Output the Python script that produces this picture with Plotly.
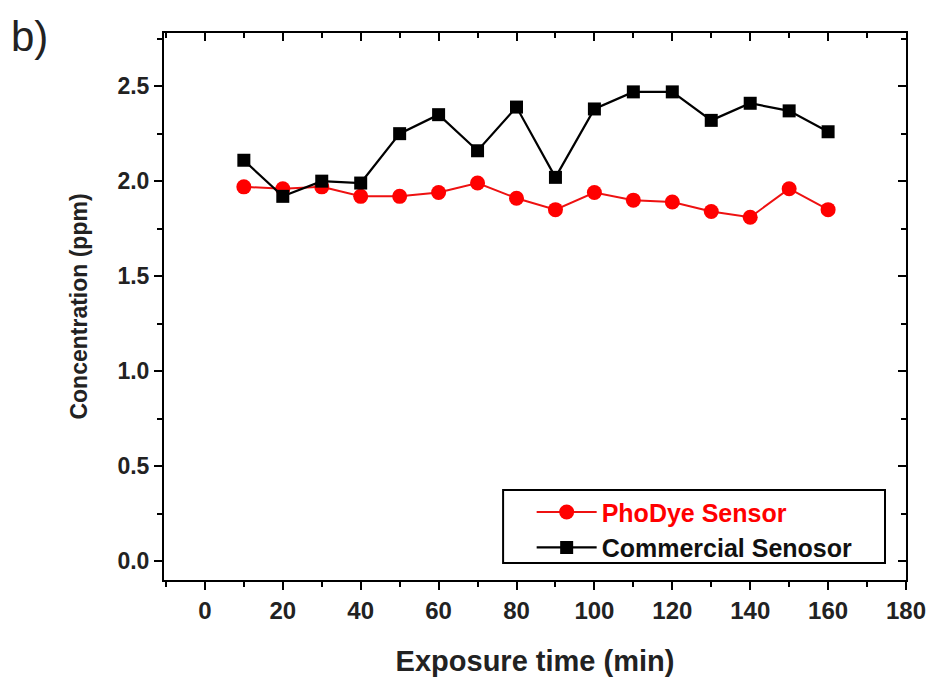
import plotly.graph_objects as go

time_min = [10, 20, 30, 40, 50, 60, 70, 80, 90, 100, 110, 120, 130, 140, 150, 160]
phodye = [1.97, 1.96, 1.97, 1.92, 1.92, 1.94, 1.99, 1.91, 1.85, 1.94, 1.90, 1.89, 1.84, 1.81, 1.96, 1.85]
commercial = [2.11, 1.92, 2.00, 1.99, 2.25, 2.35, 2.16, 2.39, 2.02, 2.38, 2.47, 2.47, 2.32, 2.41, 2.37, 2.26]

x_ticks = [0, 20, 40, 60, 80, 100, 120, 140, 160, 180]
y_ticks = [0.0, 0.5, 1.0, 1.5, 2.0, 2.5]
y_tick_labels = ["0.0", "0.5", "1.0", "1.5", "2.0", "2.5"]

FONT = "Liberation Sans, Arial, sans-serif"
xr = [-10.5, 180]
yr = [-0.1, 2.78]

fig = go.Figure()
fig.add_trace(go.Scatter(
    x=time_min, y=phodye, mode="lines+markers",
    name='<span style="color:#ff0000">PhoDye Sensor</span>',
    line=dict(color="#ee1111", width=2),
    marker=dict(symbol="circle", size=15, color="#ff0000"),
))
fig.add_trace(go.Scatter(
    x=time_min, y=commercial, mode="lines+markers",
    name="Commercial Senosor",
    line=dict(color="#000000", width=2.2),
    marker=dict(symbol="square", size=13, color="#000000"),
))

xtickfont = dict(family=FONT, size=24, color="#222", weight="bold")
ytickfont = dict(family=FONT, size=23, color="#222", weight="bold")
fig.update_layout(
    width=932, height=679,
    paper_bgcolor="white", plot_bgcolor="white",
    margin=dict(l=164, r=26, t=33, b=99, autoexpand=False),
    showlegend=True,
    legend=dict(
        x=0.4955, y=0.166, xanchor="left", yanchor="top",
        borderwidth=0, bgcolor="rgba(0,0,0,0)",
        font=dict(family=FONT, size=25, color="#111", weight="bold"),
        itemwidth=60, tracegroupgap=0,
    ),
    xaxis=dict(
        range=xr, tickvals=x_ticks, ticks="outside", ticklen=8, tickwidth=2,
        tickcolor="black", showline=True, linecolor="black", linewidth=2,
        showgrid=False, zeroline=False, tickfont=xtickfont, automargin=False,
        minor=dict(dtick=10, tick0=0, ticks="outside", ticklen=5, tickwidth=2, tickcolor="black"),
        title=dict(text="Exposure time (min)", font=dict(family=FONT, size=29, color="#222", weight="bold"), standoff=28),
    ),
    yaxis=dict(
        range=yr, tickvals=y_ticks, ticktext=y_tick_labels, ticks="outside", ticklen=8, tickwidth=2,
        tickcolor="black", showline=True, linecolor="black", linewidth=2,
        showgrid=False, zeroline=False, tickfont=ytickfont, automargin=False,
        minor=dict(dtick=0.25, tick0=0, ticks="outside", ticklen=5, tickwidth=2, tickcolor="black"),
        title=dict(text="Concentration (ppm)", font=dict(family=FONT, size=23, color="#222", weight="bold"), standoff=23),
    ),
    xaxis2=dict(
        range=xr, overlaying="x", side="top", tickvals=x_ticks, showticklabels=False,
        ticks="inside", ticklen=8, tickwidth=2, tickcolor="black", automargin=False,
        showline=True, linecolor="black", linewidth=2, showgrid=False, zeroline=False,
        minor=dict(dtick=10, tick0=0, ticks="inside", ticklen=5, tickwidth=2, tickcolor="black"),
    ),
    yaxis2=dict(
        range=yr, overlaying="y", side="right", tickvals=y_ticks, showticklabels=False,
        ticks="inside", ticklen=8, tickwidth=2, tickcolor="black", automargin=False,
        showline=True, linecolor="black", linewidth=2, showgrid=False, zeroline=False,
        minor=dict(dtick=0.25, tick0=0, ticks="inside", ticklen=5, tickwidth=2, tickcolor="black"),
    ),
)
# invisible trace to activate the mirrored axes
fig.add_trace(go.Scatter(x=[None], y=[None], xaxis="x2", yaxis="y2", showlegend=False, hoverinfo="skip"))

# legend frame
fig.add_shape(
    type="rect", xref="paper", yref="paper",
    x0=0.457, x1=0.9717, y0=0.031, y1=0.1645,
    line=dict(color="black", width=2), fillcolor="white", layer="below",
)

fig.add_annotation(
    text="b)", xref="paper", yref="paper", x=-0.209, y=0.993,
    xanchor="left", yanchor="middle", showarrow=False,
    font=dict(family=FONT, size=42, color="#222"),
)

fig.write_html(
    "out.html",
    config={"displayModeBar": False},
    post_script="document.body.style.margin='0';document.body.style.padding='0';document.body.style.overflow='hidden';",
)
